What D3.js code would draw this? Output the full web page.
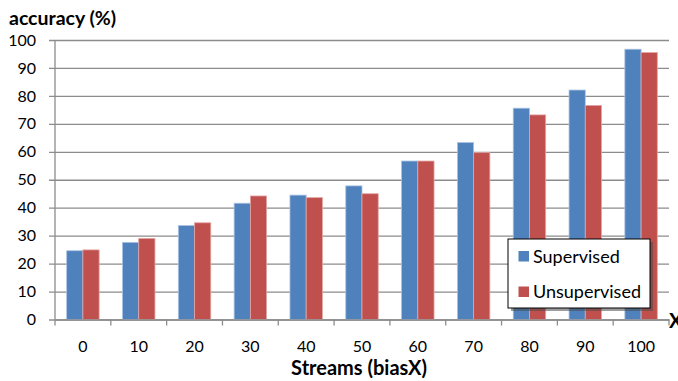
<!DOCTYPE html>
<html>
<head>
<meta charset="utf-8">
<script src="https://cdn.jsdelivr.net/npm/d3@7"></script>
<style>
  html, body { margin: 0; padding: 0; background: #fff; }
  svg { display: block; font-family: Lato, "Open Sans", sans-serif; }
</style>
</head>
<body>
<svg id="chart" width="678" height="381"></svg>
<script>
// Categories along the x axis (biasX streams)
const categories = ["0", "10", "20", "30", "40", "50", "60", "70", "80", "90", "100"];
// Accuracy (%) per series
const supervised   = [24.6, 27.6, 33.6, 41.6, 44.5, 47.8, 56.7, 63.3, 75.6, 82.1, 96.7];
const unsupervised = [24.9, 29.0, 34.6, 44.2, 43.6, 45.0, 56.7, 59.7, 73.2, 76.6, 95.5];
const seriesNames  = ["Supervised", "Unsupervised"];
const seriesColors = ["#4F81BD", "#C0504D"];
const yTicks = [0, 10, 20, 30, 40, 50, 60, 70, 80, 90, 100];

const svg = d3.select("#chart");
const plotL = 55, plotR = 669, plotT = 40, plotB = 319.5;

const x = d3.scaleBand().domain(categories).range([plotL, plotR]).paddingInner(0).paddingOuter(0);
const xSub = d3.scaleBand().domain(seriesNames).range([0, x.bandwidth()]).paddingInner(0).paddingOuter(0.72);
const y = d3.scaleLinear().domain([0, 100]).range([plotB, plotT]);

// Horizontal gridlines with left tick marks
const yAxis = d3.axisLeft(y).tickValues(yTicks).tickSize(-(plotR - plotL)).tickSizeOuter(0).tickPadding(19);
const gy = svg.append("g").attr("transform", `translate(${plotL},0)`).call(yAxis);
gy.select(".domain").remove();
gy.selectAll(".tick line").attr("x1", -6).attr("stroke", "#8c8c8c").attr("stroke-width", 1.3);
gy.selectAll(".tick text").attr("font-size", 16).attr("fill", "#000").attr("font-family", "Lato, sans-serif");

// Bars
const rows = categories.map((c, i) => ({ c, vals: [supervised[i], unsupervised[i]] }));
const groups = svg.append("g").selectAll("g").data(rows).join("g")
  .attr("transform", d => `translate(${x(d.c)},0)`);
groups.selectAll("rect").data(d => d.vals.map((v, k) => ({ v, k })))
  .join("rect")
  .attr("x", d => xSub(seriesNames[d.k]))
  .attr("y", d => y(d.v))
  .attr("width", xSub.bandwidth())
  .attr("height", d => y(0) - y(d.v))
  .attr("fill", d => seriesColors[d.k])
  .attr("stroke", d => d.k === 0 ? "#a9c2e3" : "#e2a5a4")
  .attr("stroke-width", 0.8);

// Vertical axis line
svg.append("line").attr("x1", plotL).attr("x2", plotL).attr("y1", plotT).attr("y2", plotB + 6)
  .attr("stroke", "#8c8c8c").attr("stroke-width", 1.3);

// x axis with category boundaries as ticks
const xAxis = d3.axisBottom(x).tickSize(0).tickPadding(21);
const gx = svg.append("g").attr("transform", `translate(0,${plotB})`).call(xAxis);
gx.select(".domain").attr("stroke", "#8c8c8c").attr("stroke-width", 1.3);
gx.selectAll(".tick text").attr("font-size", 16).attr("fill", "#000").attr("font-family", "Lato, sans-serif");
svg.append("g").selectAll("line").data(categories)
  .join("line")
  .attr("x1", (d, i) => plotL + (i + 1) * x.step())
  .attr("x2", (d, i) => plotL + (i + 1) * x.step())
  .attr("y1", plotB).attr("y2", plotB + 6)
  .attr("stroke", "#8c8c8c").attr("stroke-width", 1.3);

// Axis titles
svg.append("text").attr("x", 9).attr("y", 25).text("accuracy (%)")
  .attr("font-size", 19.5).attr("font-weight", "bold");
svg.append("text").attr("x", 359).attr("y", 375).attr("text-anchor", "middle").text("Streams (biasX)")
  .attr("font-size", 20).attr("font-weight", "bold");
svg.append("text").attr("x", 669).attr("y", 328).text("X")
  .attr("font-size", 20).attr("font-weight", "bold");

// Legend with drop shadow
const lg = svg.append("g").attr("transform", "translate(508,239)");
lg.append("rect").attr("x", 3).attr("y", 3).attr("width", 142).attr("height", 69).attr("fill", "#4a4a4a").attr("opacity", 0.55);
lg.append("rect").attr("width", 142).attr("height", 69).attr("fill", "#fff").attr("stroke", "#000").attr("stroke-width", 1);
seriesNames.forEach((name, k) => {
  const yy = 17.5 + k * 35.5;
  lg.append("rect").attr("x", 10.5).attr("y", yy - 5.5).attr("width", 10.5).attr("height", 10.5).attr("fill", seriesColors[k]);
  lg.append("text").attr("x", 25).attr("y", yy + 6).text(name).attr("font-size", 18);
});
</script>
</body>
</html>
